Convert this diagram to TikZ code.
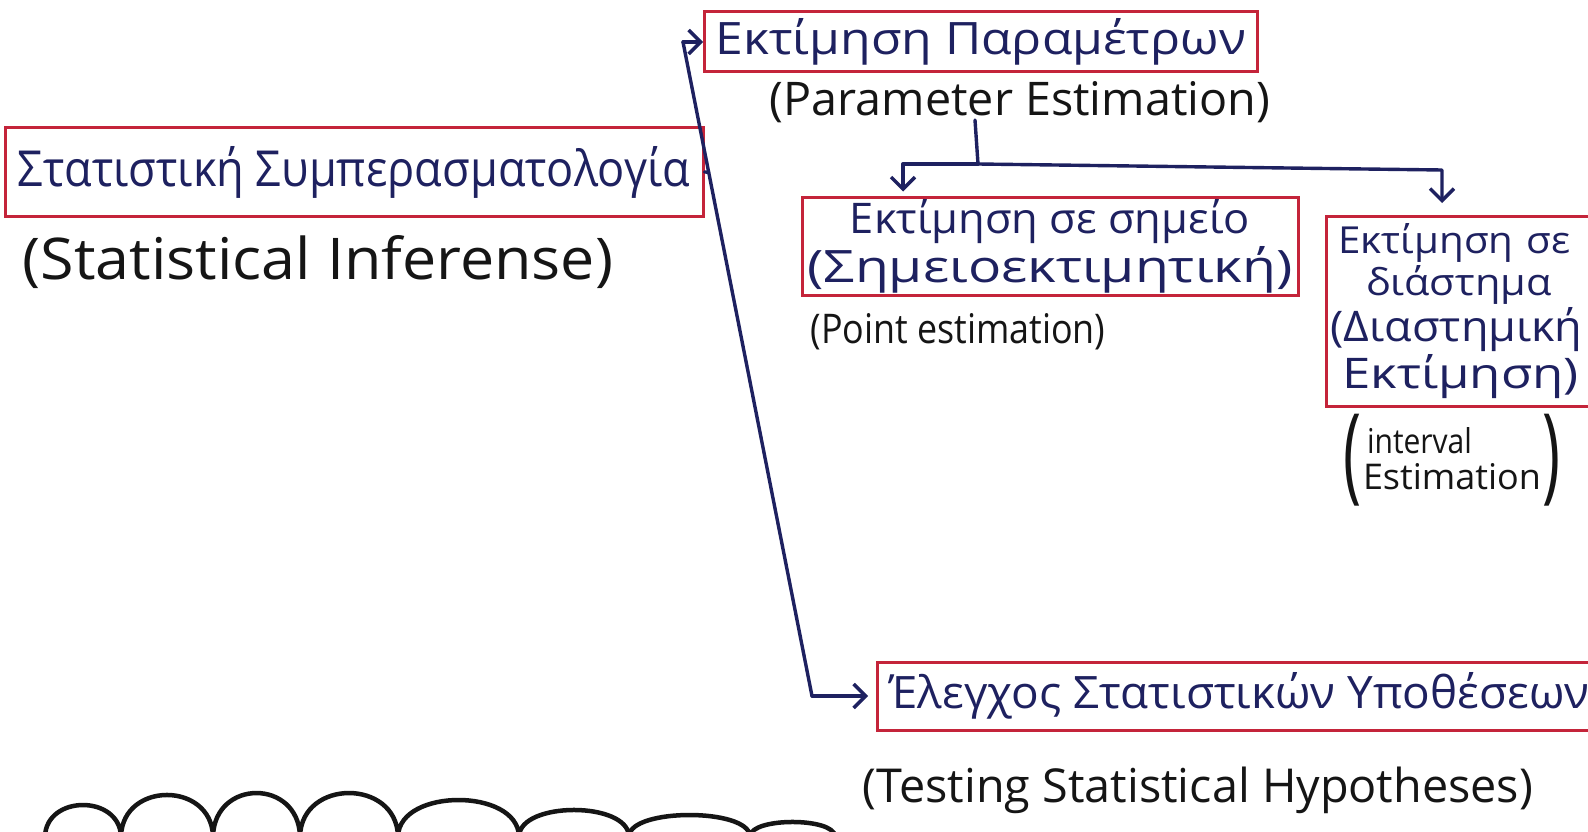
\documentclass[tikz,border=0pt]{standalone}
\usepackage{graphicx}
\usepackage{fontspec}
\setmainfont{Open Sans}
\usetikzlibrary{arrows.meta,calc}
\definecolor{boxred}{HTML}{C4243A}
\definecolor{inkblue}{HTML}{1E2160}
\definecolor{inkblack}{HTML}{151515}
\newcommand{\fw}[2]{\resizebox{#1}{!}{#2}}
\newcommand{\fwh}[3]{\resizebox{#1}{#2}{#3}}
\begin{document}
\begin{tikzpicture}[x=1pt,y=-1pt,
  redbox/.style={draw=boxred, line width=3pt, inner sep=0pt, text=inkblue},
  en/.style={text=inkblack, inner sep=0pt},
  link/.style={draw=inkblue, line width=3.4pt, line cap=round, line join=round},
  arr/.style={link, -{Straight Barb[length=12pt,width=24pt]}},
  scallop/.style={draw=inkblack, line width=4.5pt, line cap=round}]
\useasboundingbox (0,0) rectangle (1588,832);
\clip (0,0) rectangle (1588,832);
\fill[white] (0,0) rectangle (1588,832);

% boxes and texts
\node[redbox, minimum width=698pt, minimum height=88pt] (A) at (354,172)
  {\fwh{672pt}{40pt}{Στατιστική Συμπερασματολογία}};
\node[en] (Asub) at (318,262) {\fwh{590pt}{44pt}{(Statistical Inferense)}};

\node[redbox, minimum width=553pt, minimum height=60pt] (B) at (981,42)
  {\fwh{530pt}{36pt}{Εκτίμηση Παραμέτρων}};
\node[en] (Bsub) at (1020,102) {\fwh{500pt}{34pt}{(Parameter Estimation)}};

\node[redbox, minimum width=496pt, minimum height=98pt, align=center] (C1) at (1050,246)
  {\fwh{400pt}{34pt}{Εκτίμηση σε σημείο}\\[2pt]\fwh{485pt}{36pt}{(Σημειοεκτιμητική)}};
\node[en] (C1sub) at (958,332) {\fwh{295pt}{30pt}{(Point estimation)}};

\node[redbox, anchor=north west, text width=290pt, minimum height=190pt, align=left, inner xsep=4pt] (C2) at (1325,215)
  {\hspace*{8pt}\fwh{232pt}{30pt}{Εκτίμηση σε}\\[2pt]
   \hspace*{36pt}\fwh{185pt}{30pt}{διάστημα}\\[2pt]
   \fwh{252pt}{34pt}{(Διαστημική}\\[2pt]
   \hspace*{12pt}\fwh{236pt}{34pt}{Εκτίμηση)}};
\node[en] (C2sub) at (1452,460)
  {$\vcenter{\hbox{\resizebox*{18pt}{92pt}{(}}}\,
    \vcenter{\hbox{\begin{tabular}{@{}l@{}}\hspace*{4pt}\fwh{105pt}{26pt}{interval}\\[6pt]\fwh{178pt}{26pt}{Estimation}\end{tabular}}}\,
    \vcenter{\hbox{\resizebox*{18pt}{92pt}{)}}}$};

\node[redbox, anchor=west, minimum height=68pt, inner xsep=12pt] (D) at (876,696)
  {\fwh{700pt}{36pt}{Έλεγχος Στατιστικών Υποθέσεων}};
\node[en] (Dsub) at (1198,790) {\fw{670pt}{(Testing Statistical Hypotheses)}};

% trunk from A to B and D
\coordinate (tTop) at (683,42);
\coordinate (tBot) at (812,696);
\coordinate (tMid) at ($(tTop)!0.199!(tBot)$);
\draw[link] (tTop) -- (tBot);
\draw[link] (A.east) -- (tMid);
\draw[arr] (tTop) -- (B.west);
\draw[arr, shorten >=8pt] (tBot) -- (D.west);

% branch from B to C1 and C2
\coordinate (bStem) at (975,120);
\coordinate (bJoin) at (978,164);
\coordinate (bL) at (903,164);
\coordinate (bR) at (1442,170);
\draw[link] (bStem) -- (bJoin);
\draw[arr, shorten >=4pt] (bJoin) -- (bL) -- (bL |- C1.north);
\draw[arr, shorten >=12pt] (bJoin) -- (bR) -- (bR |- C2.north);

% scalloped line at the bottom
\draw[scallop] (45,836)
  .. controls (47,794.7) and (119,794.7) .. (121,836)
  .. controls (123,781.3) and (211,781.3) .. (213,836)
  .. controls (215,778.7) and (298,778.7) .. (300,836)
  .. controls (302,778.7) and (396,778.7) .. (398,836)
  .. controls (400,788) and (517,788) .. (519,836)
  .. controls (521,801.3) and (627,801.3) .. (629,836)
  .. controls (631,808) and (748,808) .. (750,836)
  .. controls (752,817.3) and (833,817.3) .. (835,836);
\end{tikzpicture}
\end{document}
